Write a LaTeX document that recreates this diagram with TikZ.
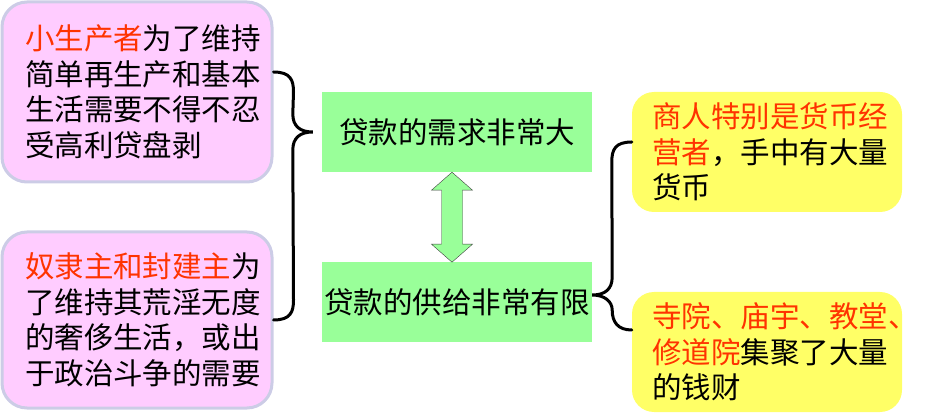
\documentclass[tikz,border=0pt]{standalone}
\usepackage{fontspec}
\newfontfamily\cjk{Noto Sans CJK SC}
\usepackage{tikz}
\usetikzlibrary{calc}
\definecolor{boxpink}{RGB}{255,204,255}
\definecolor{boxedge}{RGB}{204,204,230}
\definecolor{boxgreen}{RGB}{153,255,153}
\definecolor{boxyellow}{RGB}{255,255,102}
\definecolor{redtxt}{RGB}{255,51,0}
\newcommand{\redword}[1]{\textcolor{redtxt}{#1}}

\begin{document}
\begin{tikzpicture}[x=1pt,y=-1pt,
    every node/.style={font=\cjk\fontsize{29.5}{35.5}\selectfont},
    pinkbox/.style={draw=boxedge, line width=3pt, fill=boxpink, rounded corners=25pt,
        minimum width=270pt, text width=224pt, inner xsep=23pt, align=left},
    yellowbox/.style={fill=boxyellow, rounded corners=22pt,
        minimum width=270pt, minimum height=120pt, text width=230pt, inner xsep=20pt, align=left},
    greenbox/.style={fill=boxgreen, minimum width=270pt, minimum height=80pt, inner sep=0pt},
    brace/.style={line width=3pt, line cap=round}]
            \useasboundingbox (0,0) rectangle (930,414);

            \node[pinkbox, minimum height=180pt] (small) at (137,92)
                {\redword{小生产者}为了维持\\简单再生产和基本\\生活需要不得不忍\\受高利贷盘剥};
            \node[pinkbox, minimum height=176pt] (lords) at (137,320)
                {\redword{奴隶主和封建主}为\\了维持其荒淫无度\\的奢侈生活，或出\\于政治斗争的需要};

            \node[greenbox] (demand) at (457,132) {贷款的需求非常大};
            \node[greenbox] (supply) at (457,302) {贷款的供给非常有限};

            \node[yellowbox] (merchant) at (767,152)
                {\redword{商人特别是货币经}\\\redword{营者}，手中有大量\\货币};
            \node[yellowbox] (temple) at (767,352)
                {\redword{寺院、庙宇、教堂、}\\\redword{修道院}集聚了大量\\的钱财};

            % braces
            \coordinate (lb1) at ([yshift=20pt]small.east);
            \coordinate (ltip) at ([xshift=-9pt]demand.west);
            \coordinate (lb2) at (lords.east);
            \draw[brace] (lb1) .. controls +(17,0) and +(0,-12) .. ++(20,20)
                -- ($(ltip)+(-20,-18)$) .. controls +(0,12) and +(-13,0) .. (ltip)
                .. controls +(-13,0) and +(0,-12) .. ++(-20,18)
                -- ($(lb2)+(20,-20)$) .. controls +(0,12) and +(17,0) .. (lb2);

            \coordinate (rb1) at ([yshift=10pt]merchant.west);
            \coordinate (rtip) at ([yshift=7pt]supply.east);
            \coordinate (rb2) at ([yshift=22pt]temple.west);
            \draw[brace] (rb1) .. controls +(-17,0) and +(0,-12) .. ++(-20,20)
                -- ($(rtip)+(20,-18)$) .. controls +(0,12) and +(13,0) .. (rtip)
                .. controls +(13,0) and +(0,-8) .. ++(20,15)
                .. controls +(0,12) and +(-14,0) .. (rb2);

            % double arrow
            \draw[fill=boxgreen, draw=black!75] ([xshift=-5pt]demand.south)
                -- ++(-20.5,18) -- ++(10,0) -- ++(0,54) -- ++(-10,0)
                -- ++(20.5,18) -- ++(20.5,-18) -- ++(-10,0) -- ++(0,-54)
                -- ++(10,0) -- cycle;
        \end{tikzpicture}
\end{document}
